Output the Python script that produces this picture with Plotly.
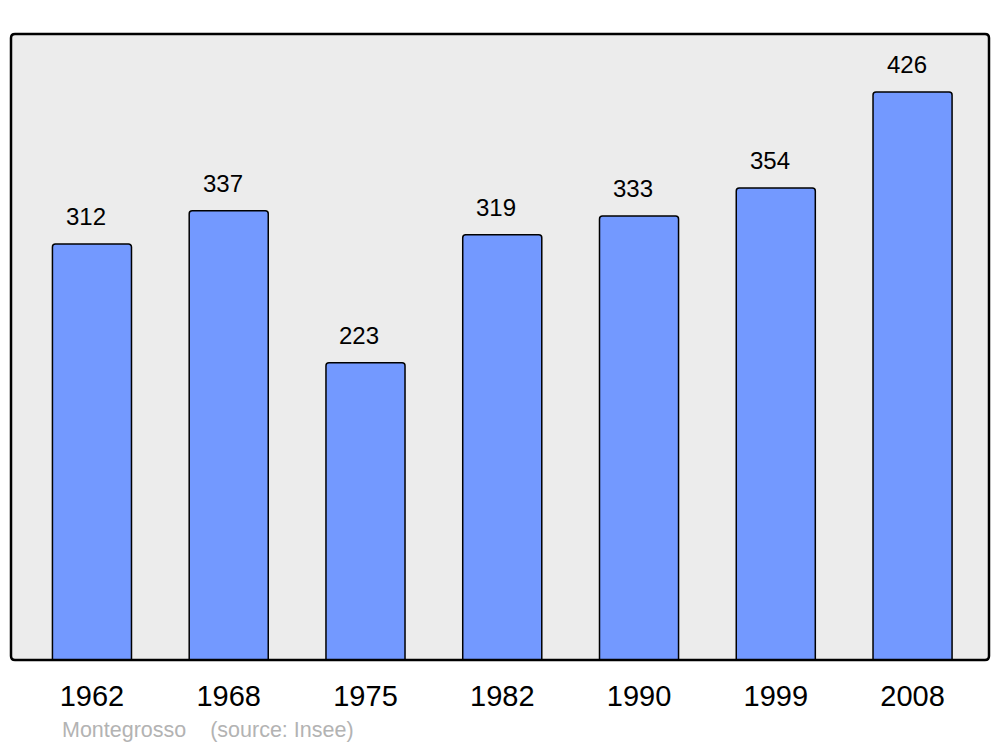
import plotly.graph_objects as go

years = ["1962", "1968", "1975", "1982", "1990", "1999", "2008"]
population = [312, 337, 223, 319, 333, 354, 426]
footer_text = "Montegrosso    (source: Insee)"

xs = list(range(len(years)))

fig = go.Figure()
fig.add_trace(go.Bar(
    x=xs, y=population, width=0.578,
    marker=dict(color="#7399ff", line=dict(color="black", width=1.5), cornerradius=3),
    hoverinfo="skip",
))

for i, v in zip(xs, population):
    fig.add_annotation(x=i, y=v, text=str(v), showarrow=False, yanchor="bottom",
                       yshift=12, xshift=-6,
                       font=dict(family="Liberation Sans, Arial, sans-serif", size=24, color="black"))

fig.add_annotation(xref="paper", yref="paper", x=(60 - 11) / 978, y=(660 - 730) / 626,
                   xanchor="left", yanchor="middle", text=footer_text, showarrow=False,
                   font=dict(family="Liberation Sans, Arial, sans-serif", size=21.5, color="#b3b3b3"))

# rounded border
rx, ry = 4 / 978, 4 / 626
path = (f"M {rx},0 L {1-rx},0 Q 1,0 1,{ry} L 1,{1-ry} Q 1,1 {1-rx},1 L {rx},1 Q 0,1 0,{1-ry} "
        f"L 0,{ry} Q 0,0 {rx},0 Z")
fig.add_shape(type="path", xref="paper", yref="paper", path=path,
              line=dict(color="black", width=2.5), layer="above")

# page body has an 8px margin; compensate so the plot lands where the reference has it
fig.update_layout(
    width=992, height=739,
    margin=dict(l=3, r=11, t=26, b=87),
    paper_bgcolor="white", plot_bgcolor="#ececec",
    showlegend=False,
    font=dict(family="Liberation Sans, Arial, sans-serif", color="black"),
    xaxis=dict(range=[-0.592, 6.559], tickvals=xs, ticktext=years, showgrid=False,
               zeroline=False, ticks="", tickfont=dict(size=29), ticklabelstandoff=16),
    yaxis=dict(range=[0, 469.5], visible=False, showgrid=False),
)

fig.write_html("out.html")
